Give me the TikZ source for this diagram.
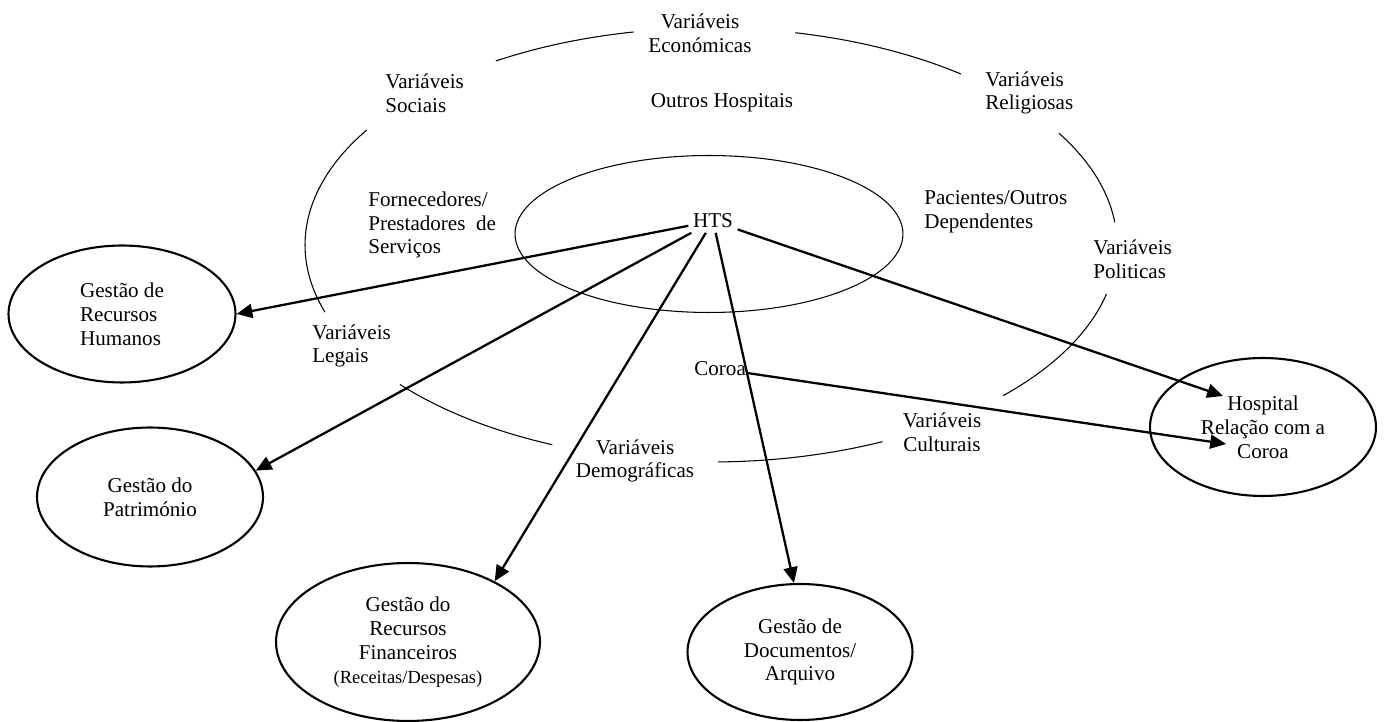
\documentclass[tikz,border=0pt]{standalone}
\usepackage{fontspec}
\setmainfont{Liberation Serif}
\usetikzlibrary{shapes.geometric,arrows.meta}

\begin{document}
\begin{tikzpicture}[x=0.02cm,y=-0.02cm,
  font=\fontsize{12}{13.6}\selectfont,
  lbleft/.style={inner sep=0pt, anchor=west, align=left},
  lbmid/.style={inner sep=0pt, align=center},
  area/.style={draw, ellipse, line width=1.2pt, align=center, inner sep=0pt},
  ring/.style={line width=0.6pt},
  flow/.style={line width=1.3pt, -{Triangle[length=9pt,width=8pt]}}]
\useasboundingbox (0,0) rectangle (1384,722);
\draw[ring] plot[domain=162:212, samples=40] ({711+406*cos(\x)}, {245+217*sin(\x)});
\draw[ring] plot[domain=238:259, samples=20] ({711+406*cos(\x)}, {245+217*sin(\x)});
\draw[ring] plot[domain=282:308, samples=20] ({711+406*cos(\x)}, {245+217*sin(\x)});
\draw[ring] plot[domain=329:354, samples=20] ({711+406*cos(\x)}, {245+217*sin(\x)});
\draw[ring] plot[domain=13:44, samples=20] ({711+406*cos(\x)}, {245+217*sin(\x)});
\draw[ring] plot[domain=65:89, samples=20] ({711+406*cos(\x)}, {245+217*sin(\x)});
\draw[ring] plot[domain=113:140, samples=20] ({711+406*cos(\x)}, {245+217*sin(\x)});
\node[draw, ellipse, ring, minimum width=7.76cm, minimum height=3.14cm] (core) at (709,234) {};
\node[lbmid] (economicas) at (700,33) {Variáveis\\Económicas};
\node[lbleft] (sociais) at (385,93) {Variáveis\\Sociais};
\node[lbmid] (outros) at (722,103) {Outros Hospitais};
\node[lbleft] (religiosas) at (985,93) {Variáveis\\Religiosas};
\node[lbleft] (fornecedores) at (368,225) {Fornecedores/\\Prestadores\ \ de\\Serviços};
\node[lbleft] (pacientes) at (924,212) {Pacientes/Outros\\Dependentes};
\node[lbleft] (politicas) at (1093,259) {Variáveis\\Politicas};
\node[lbleft] (legais) at (312,346) {Variáveis\\Legais};
\node[lbmid] (demograficas) at (635,461) {Variáveis\\Demográficas};
\node[lbmid] (culturais) at (942,432) {Variáveis\\Culturais};
\node[inner sep=2.5pt] (hts) at (713,221) {HTS};
\node[lbleft] (coroa) at (694,369) {Coroa};
\node[area, align=left, minimum width=4.54cm, minimum height=2.74cm] (rh) at (122,314) {Gestão de\\Recursos\\Humanos};
\node[area, minimum width=4.52cm, minimum height=2.78cm] (pat) at (150,497) {Gestão do\\Património};
\node[area, minimum width=5.28cm, minimum height=3.16cm] (fin) at (408,642) {Gestão do\\Recursos\\Financeiros\\{\fontsize{10.5}{12}\selectfont(Receitas/Despesas)}};
\node[area, minimum width=4.5cm, minimum height=2.72cm] (doc) at (800,652) {Gestão de\\Documentos/\\Arquivo};
\node[area, minimum width=4.52cm, minimum height=2.76cm] (hosp) at (1263,427) {Hospital\\Relação com a\\Coroa};
\coordinate (hospin) at (1223,396);
\coordinate (coroain) at (1226,444);
\draw[flow] (hts) -- (rh.east);
\draw[flow] (hts) -- (pat.14);
\draw[flow] (hts) -- (fin.35);
\draw[flow] (hts) -- (doc.95);
\draw[flow] (hts) -- (hospin);
\draw[flow] (coroa) -- (coroain);
\end{tikzpicture}
\end{document}
